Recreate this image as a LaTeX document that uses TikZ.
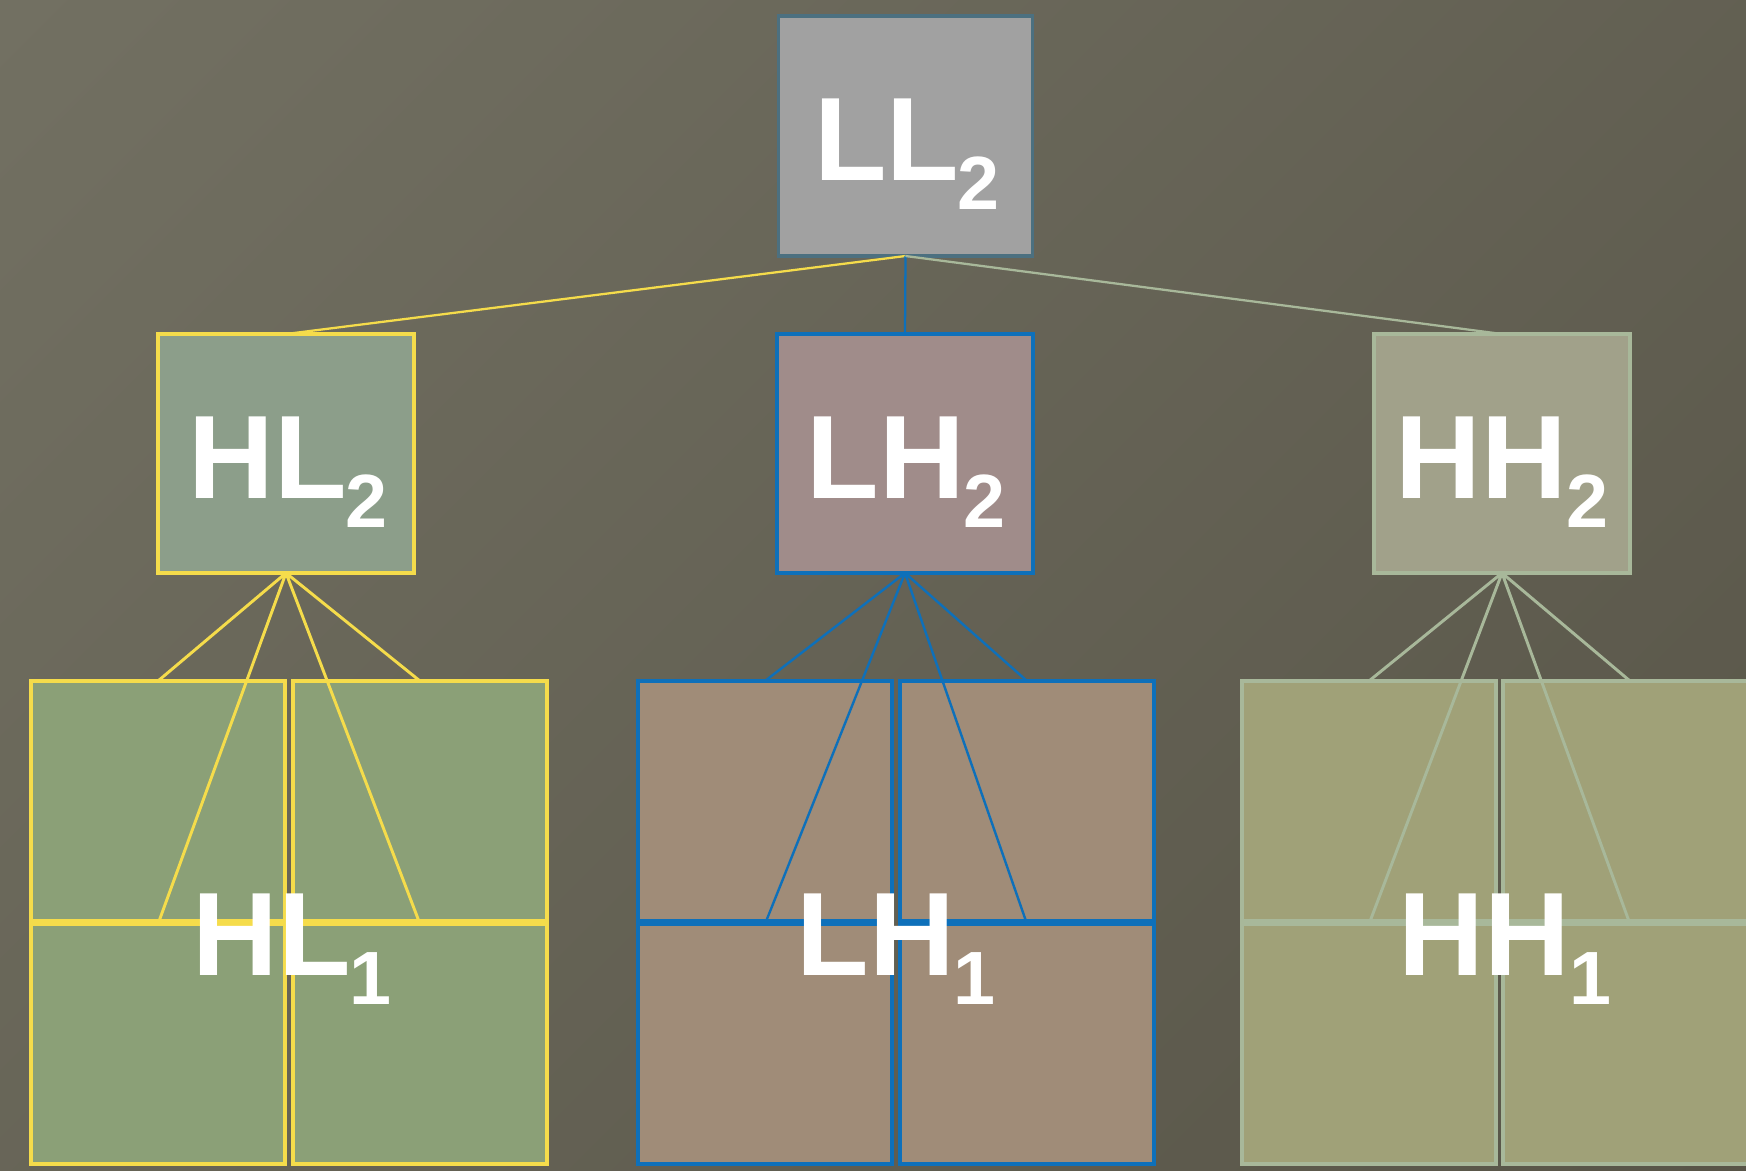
\documentclass[tikz,border=0pt]{standalone}
\usepackage{fontspec}
\setmainfont{Liberation Sans}
\definecolor{bgA}{RGB}{114,112,98}
\definecolor{bgB}{RGB}{88,85,72}
\definecolor{llfill}{RGB}{161,161,161}
\definecolor{llline}{RGB}{76,112,128}
\definecolor{hltop}{RGB}{140,158,138}
\definecolor{yel}{RGB}{245,220,75}
\definecolor{lhtop}{RGB}{160,140,138}
\definecolor{blu}{RGB}{14,112,186}
\definecolor{hhtop}{RGB}{161,161,138}
\definecolor{sage}{RGB}{168,184,154}
\definecolor{hlbot}{RGB}{139,160,119}
\definecolor{lhbot}{RGB}{160,140,120}
\definecolor{hhbot}{RGB}{160,161,120}
\newcommand\mylab[2]{{\fontsize{89}{89}\selectfont #1}\kern-1pt\raisebox{-21.75pt}{\fontsize{56.6}{56.6}\selectfont #2}}
\tikzset{
  box/.style={draw, line width=2.8pt, inner sep=0pt, outer sep=0pt, minimum width=192pt},
  topbox/.style={box, minimum height=179.25pt},
  botbox/.style={box, minimum height=180pt, minimum width=190pt},
  lbl/.style={text=white, font=\bfseries, inner sep=0pt, anchor=base},
  conn/.style={line width=1.7pt},
  fan/.style={line width=2.2pt}
}
\begin{document}
\begin{tikzpicture}[x=0.75pt,y=-0.75pt]
\useasboundingbox (0,0) rectangle (1746,1171);
\clip (0,0) rectangle (1746,1171);
\shade[top color=bgA, bottom color=bgB, shading angle=45] (-300,-300) rectangle (2046,1471);
% boxes
\node[box, fill=llfill, draw=llline, minimum width=190.5pt, minimum height=180pt] (LL2) at (905.5,136) {};
\node[topbox, fill=hltop, draw=yel] (HL2) at (286,453.5) {};
\node[topbox, fill=lhtop, draw=blu] (LH2) at (905,453.5) {};
\node[topbox, fill=hhtop, draw=sage] (HH2) at (1502,453.5) {};
% bottom groups
\node[botbox, fill=hlbot, draw=yel] (HLa) at (158,801) {};
\node[botbox, fill=hlbot, draw=yel] (HLb) at (420,801) {};
\node[botbox, fill=hlbot, draw=yel] (HLc) at (158,1044) {};
\node[botbox, fill=hlbot, draw=yel] (HLd) at (420,1044) {};
\node[botbox, fill=lhbot, draw=blu] (LHa) at (765,801) {};
\node[botbox, fill=lhbot, draw=blu] (LHb) at (1027,801) {};
\node[botbox, fill=lhbot, draw=blu] (LHc) at (765,1044) {};
\node[botbox, fill=lhbot, draw=blu] (LHd) at (1027,1044) {};
\node[botbox, fill=hhbot, draw=sage] (HHa) at (1369,801) {};
\node[botbox, fill=hhbot, draw=sage] (HHb) at (1630,801) {};
\node[botbox, fill=hhbot, draw=sage] (HHc) at (1369,1044) {};
\node[botbox, fill=hhbot, draw=sage] (HHd) at (1630,1044) {};
% connectors from LL2
\draw[conn, yel] (LL2.south) -- (HL2.north);
\draw[conn, blu] (LL2.south) -- (LH2.north);
\draw[conn, sage] (LL2.south) -- (HH2.north);
% fans
\draw[fan, yel] (HL2.south) -- (HLa.north) (HL2.south) -- (HLb.north) (HL2.south) -- (HLc.north) (HL2.south) -- (HLd.north);
\draw[fan, blu, line width=1.8pt] (LH2.south) -- (LHa.north) (LH2.south) -- (LHb.north) (LH2.south) -- (LHc.north) (LH2.south) -- (LHd.north);
\draw[fan, sage] (HH2.south) -- (HHa.north) (HH2.south) -- (HHb.north) (HH2.south) -- (HHc.north) (HH2.south) -- (HHd.north);
% labels
\node[lbl] (tLL2) at (907,180) {\mylab{LL}{2}};
\node[lbl] (tHL2) at (288,498) {\mylab{HL}{2}};
\node[lbl] (tLH2) at (906,498) {\mylab{LH}{2}};
\node[lbl] (tHH2) at (1502,498) {\mylab{HH}{2}};
\node[lbl] (tHL1) at (292,975) {\mylab{HL}{1}};
\node[lbl] (tLH1) at (896,975) {\mylab{LH}{1}};
\node[lbl] (tHH1) at (1505,975) {\mylab{HH}{1}};
\end{tikzpicture}
\end{document}
